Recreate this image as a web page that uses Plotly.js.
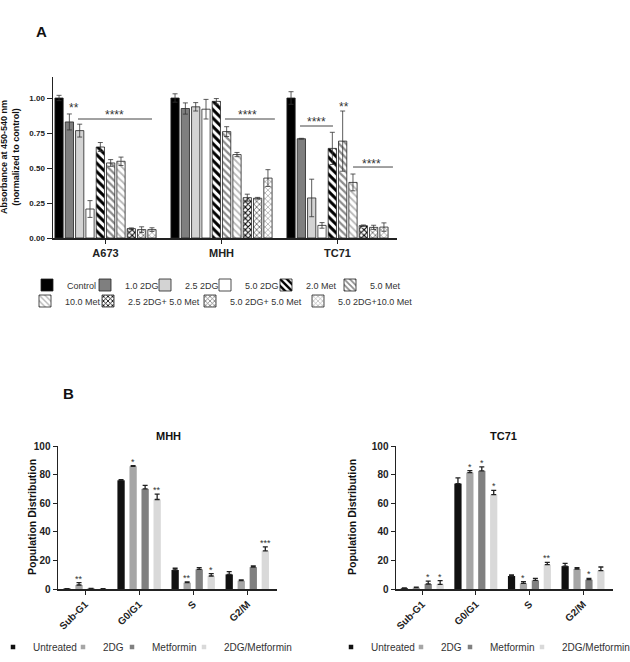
<!DOCTYPE html>
<html><head><meta charset="utf-8">
<script src="https://cdn.plot.ly/plotly-3.0.1.min.js"></script>
<style>html,body{margin:0;padding:0;background:#fff}#chart{width:630px;height:662px}</style>
</head><body><div id="chart"></div>
<script>
// ---------------- Panel A data ----------------
const cellLines = ['A673', 'MHH', 'TC71'];
const treatmentsA = ['Control', '1.0 2DG', '2.5 2DG', '5.0 2DG', '2.0 Met', '5.0 Met', '10.0 Met',
  '2.5 2DG+ 5.0 Met', '5.0 2DG+ 5.0 Met', '5.0 2DG+10.0 Met'];
const absA673 = [1.00, 0.829, 0.767, 0.207, 0.65, 0.536, 0.548, 0.067, 0.060, 0.060];
const errA673 = [0.019, 0.057, 0.046, 0.060, 0.032, 0.024, 0.030, 0.005, 0.020, 0.013];
const absMHH  = [1.00, 0.925, 0.937, 0.920, 0.976, 0.760, 0.596, 0.288, 0.284, 0.428];
const errMHH  = [0.030, 0.040, 0.030, 0.070, 0.020, 0.035, 0.015, 0.025, 0.006, 0.060];
const absTC71 = [1.00, 0.709, 0.286, 0.090, 0.640, 0.692, 0.397, 0.088, 0.076, 0.078];
const errTC71 = [0.045, 0.003, 0.134, 0.020, 0.115, 0.215, 0.060, 0.005, 0.015, 0.030];
const yTicksA = [0, 0.25, 0.5, 0.75, 1.0];

// significance brackets in panel A
const sigLineStart = [-0.237, 1.03, 1.677, 2.134];
const sigLineEnd   = [0.401, 1.46, 1.961, 2.478];
const sigLineLevel = [0.85, 0.85, 0.80, 0.507];
// significance labels in panel A
const sigLabelX = [-0.27, 0.074, 1.228, 1.823, 2.056, 2.297];
const sigLabelY = [0.929, 0.879, 0.879, 0.829, 0.936, 0.529];
const sigLabelText = ['**', '****', '****', '****', '**', '****'];

// ---------------- Panel B data ----------------
const phases = ['Sub-G1', 'G0/G1', 'S', 'G2/M'];
const treatmentsB = ['Untreated', '2DG', 'Metformin', '2DG/Metformin'];
const mhhUntreated = [0.3, 76.0, 13.3, 10.2];
const mhh2DG       = [2.8, 85.8, 4.4, 5.8];
const mhhMet       = [0.4, 70.0, 13.7, 15.3];
const mhhCombo     = [0.2, 62.6, 9.1, 26.7];
const mhhUntreatedErr = [0, 0.5, 1.2, 1.9];
const mhh2DGErr       = [1.6, 0.5, 0.5, 0.5];
const mhhMetErr       = [0, 2.5, 1.2, 0.9];
const mhhComboErr     = [0, 3.7, 1.6, 2.8];
const tcUntreated = [0.5, 73.7, 9.1, 16.0];
const tc2DG       = [0.9, 81.4, 4.0, 14.0];
const tcMet       = [3.5, 82.6, 6.0, 6.5];
const tcCombo     = [3.3, 66.0, 17.0, 12.8];
const tcUntreatedErr = [0.3, 4.0, 0.7, 1.9];
const tc2DGErr       = [0.4, 1.4, 1.2, 0.9];
const tcMetErr       = [2.0, 2.8, 1.4, 0.9];
const tcComboErr     = [2.5, 3.0, 1.6, 2.6];
// significance: [phase index, treatment index, stars]
const sigMHH = [[0, 1, '**'], [1, 1, '*'], [1, 3, '**'], [2, 1, '**'], [2, 3, '*'], [3, 3, '***']];
const sigTC71 = [[0, 2, '*'], [0, 3, '*'], [1, 1, '*'], [1, 2, '*'], [1, 3, '*'], [2, 1, '*'], [2, 3, '**'], [3, 2, '*']];

// ---------------- styling ----------------
const W = 630, H = 662;
const FONT = 'Arial, "Liberation Sans", sans-serif';
const px = v => v / W;
const py = v => 1 - v / H;

const styleA = [
  {color: '#000000'},
  {color: '#7f7f7f'},
  {color: '#d3d3d3'},
  {color: '#ffffff'},
  {color: '#ffffff', pattern: {shape: '\\', fgcolor: '#000000', bgcolor: '#ffffff', size: 6, solidity: 0.5}},
  {color: '#ffffff', pattern: {shape: '\\', fgcolor: '#8c8c8c', bgcolor: '#ffffff', size: 5, solidity: 0.45}},
  {color: '#ffffff', pattern: {shape: '\\', fgcolor: '#b8b8b8', bgcolor: '#ffffff', size: 5, solidity: 0.35}},
  {color: '#ffffff', pattern: {shape: 'x', fgcolor: '#000000', bgcolor: '#ffffff', size: 4, solidity: 0.45}},
  {color: '#ffffff', pattern: {shape: 'x', fgcolor: '#6e6e6e', bgcolor: '#ffffff', size: 4, solidity: 0.4}},
  {color: '#ffffff', pattern: {shape: 'x', fgcolor: '#a8a8a8', bgcolor: '#ffffff', size: 4, solidity: 0.35}}
];
const colorsB = ['#111111', '#a6a6a6', '#808080', '#d9d9d9'];

// legend placement: panel A by swatch centre, panel B by text start (pixels)
const legendSwatchA = [[47, 285], [105, 285], [165, 285], [225, 285], [286, 285], [350, 285],
                       [45, 301], [108, 301], [210, 301], [318, 301]];
const legendTextMHH = [[33, 647], [103, 647], [152, 647], [224, 647]];
const legendTextTC = [[371, 647], [441, 647], [490, 647], [562, 647]];

const layout = {
  width: W, height: H,
  margin: {l: 0, r: 0, t: 0, b: 0, autoexpand: false},
  paper_bgcolor: '#ffffff', plot_bgcolor: 'rgba(0,0,0,0)',
  font: {family: FONT, color: '#222'},
  barmode: 'group', bargap: 0.11, bargroupgap: 0.2,
  showlegend: true,
  annotations: [], shapes: []
};

let legendCount = 0;
function nextLegend(leftPx, yPx, size) {
  legendCount++;
  const id = legendCount === 1 ? 'legend' : 'legend' + legendCount;
  layout[id] = {
    x: px(leftPx), y: py(yPx), xanchor: 'left', yanchor: 'middle',
    orientation: 'h', bgcolor: 'rgba(0,0,0,0)', borderwidth: 0,
    font: {family: FONT, size: size, color: '#333'},
    itemclick: false, itemdoubleclick: false
  };
  return id;
}

const traces = [];

// Panel A bars
treatmentsA.forEach((t, i) => {
  traces.push({
    type: 'bar', name: t, x: cellLines,
    y: [absA673[i], absMHH[i], absTC71[i]],
    xaxis: 'x', yaxis: 'y',
    legend: nextLegend(legendSwatchA[i][0] - 20, legendSwatchA[i][1], 9),
    marker: Object.assign({line: {color: '#222', width: 0.8}}, styleA[i]),
    error_y: {type: 'data', array: [errA673[i], errMHH[i], errTC71[i]], color: '#333', thickness: 0.8, width: 2.5},
    hoverinfo: 'skip'
  });
});

// Panel B bars
const BAR_W = 0.135;
function addPanelB(values, errs, xa, ya, legendPos) {
  values.forEach((vals, i) => {
    traces.push({
      type: 'bar', name: treatmentsB[i], x: phases, y: vals,
      xaxis: xa, yaxis: ya, width: BAR_W, showlegend: false,
      marker: {color: colorsB[i], line: {width: 0}},
      error_y: {type: 'data', symmetric: false, array: errs[i], arrayminus: errs[i].map(() => 0),
                color: '#222', thickness: 1.3, width: 2.5},
      hoverinfo: 'skip'
    });
  });
  // legend entries (small square swatches as in the original)
  treatmentsB.forEach((t, i) => {
    traces.push({
      type: 'scatter', mode: 'markers', name: t, x: [null], y: [null],
      xaxis: xa, yaxis: ya, legend: nextLegend(legendPos[i][0] - 40, legendPos[i][1], 10),
      marker: {symbol: 'square', size: 4.5, color: colorsB[i]}, hoverinfo: 'skip'
    });
  });
}
addPanelB([mhhUntreated, mhh2DG, mhhMet, mhhCombo],
          [mhhUntreatedErr, mhh2DGErr, mhhMetErr, mhhComboErr], 'x2', 'y2', legendTextMHH);
addPanelB([tcUntreated, tc2DG, tcMet, tcCombo],
          [tcUntreatedErr, tc2DGErr, tcMetErr, tcComboErr], 'x3', 'y3', legendTextTC);

// ---------------- axes ----------------
const axisCommon = {
  showgrid: false, zeroline: false, showline: true, linecolor: '#222', linewidth: 1.5,
  ticks: 'outside', tickcolor: '#222', tickwidth: 1, fixedrange: true
};
layout.xaxis = Object.assign({}, axisCommon, {
  domain: [px(53), px(397)], range: [-0.4526, 2.513], type: 'category', anchor: 'y',
  ticklen: 4, tickfont: {family: FONT, size: 11, weight: 'bold', color: '#222'}
});
layout.yaxis = Object.assign({}, axisCommon, {
  domain: [py(238), py(77)], range: [0, 1.15], anchor: 'x',
  tickvals: yTicksA, tickformat: '.2f', ticklen: 5,
  tickfont: {family: FONT, size: 8, weight: 'bold', color: '#222'}
});
layout.xaxis2 = Object.assign({}, axisCommon, {
  domain: [px(58), px(277)], range: [-0.5, 3.55], type: 'category', anchor: 'y2',
  ticklen: 4, tickangle: -45, tickfont: {family: FONT, size: 10, weight: 'bold', color: '#222'}
});
layout.yaxis2 = Object.assign({}, axisCommon, {
  domain: [py(589), py(446)], range: [0, 100], anchor: 'x2', dtick: 20, ticklen: 4,
  tickfont: {family: FONT, size: 10, weight: 'bold', color: '#222'}
});
layout.xaxis3 = Object.assign({}, axisCommon, {
  domain: [px(396), px(613)], range: [-0.49, 3.56], type: 'category', anchor: 'y3',
  ticklen: 4, tickangle: -45, tickfont: {family: FONT, size: 10, weight: 'bold', color: '#222'}
});
layout.yaxis3 = Object.assign({}, axisCommon, {
  domain: [py(589), py(446)], range: [0, 100], anchor: 'x3', dtick: 20, ticklen: 4,
  tickfont: {family: FONT, size: 10, weight: 'bold', color: '#222'}
});

// ---------------- significance marks ----------------
sigLineStart.forEach((s, i) => {
  layout.shapes.push({type: 'line', xref: 'x', yref: 'y', x0: s, x1: sigLineEnd[i],
    y0: sigLineLevel[i], y1: sigLineLevel[i], line: {color: '#444', width: 1}});
});
sigLabelText.forEach((t, i) => {
  layout.annotations.push({xref: 'x', yref: 'y', x: sigLabelX[i], y: sigLabelY[i], text: t,
    showarrow: false, xanchor: 'center', yanchor: 'middle',
    font: {family: FONT, size: 12, color: '#333'}});
});
const slotB = (1 - layout.bargap) / 4;
function addStars(sig, values, errs, xa, ya) {
  sig.forEach(([p, t, s]) => {
    layout.annotations.push({xref: xa, yref: ya, x: p + (t - 1.5) * slotB,
      y: values[t][p] + errs[t][p], text: s, showarrow: false, xanchor: 'center', yanchor: 'bottom',
      yshift: -3, font: {family: FONT, size: 9, color: '#333'}});
  });
}
addStars(sigMHH, [mhhUntreated, mhh2DG, mhhMet, mhhCombo],
         [mhhUntreatedErr, mhh2DGErr, mhhMetErr, mhhComboErr], 'x2', 'y2');
addStars(sigTC71, [tcUntreated, tc2DG, tcMet, tcCombo],
         [tcUntreatedErr, tc2DGErr, tcMetErr, tcComboErr], 'x3', 'y3');

// ---------------- titles / labels ----------------
function label(text, x, y, size, angle) {
  layout.annotations.push({xref: 'paper', yref: 'paper', x: px(x), y: py(y), text: text,
    showarrow: false, xanchor: 'center', yanchor: 'middle', textangle: angle || 0,
    font: {family: FONT, size: size, weight: 'bold', color: '#111'}});
}
label('A', 41, 31, 15);
label('B', 68, 393, 15);
label('Absorbance at 450-540 nm<br>(normalized to control)', 10, 157, 9, -90);
label('MHH', 168, 436, 11);
label('TC71', 503, 436, 11);
label('Population Distribution', 32, 517, 10.5, -90);
label('Population Distribution', 352, 517, 10.5, -90);

Plotly.newPlot('chart', traces, layout, {staticPlot: true, displayModeBar: false});
</script>
</body></html>
